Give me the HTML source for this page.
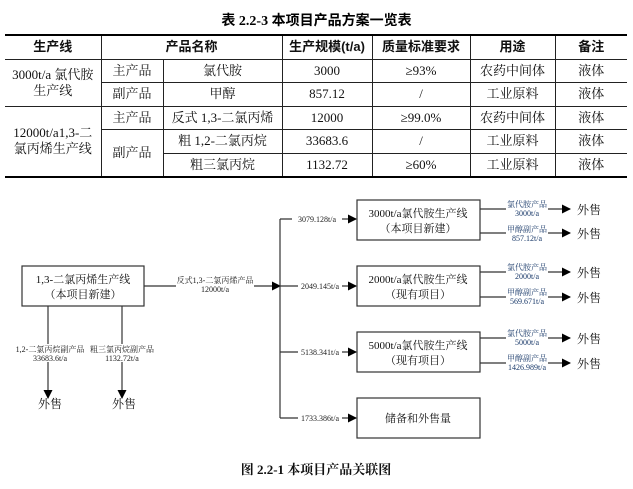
<!DOCTYPE html>
<html><head><meta charset="utf-8"><style>
body{margin:0;width:633px;height:489px;background:#fff;font-family:"Liberation Serif","Noto Serif CJK SC",serif;position:relative;overflow:hidden}
.t{position:absolute;white-space:nowrap}
table{position:absolute;left:5px;top:34px;width:622px;table-layout:fixed;border-collapse:collapse;font-size:13px;color:#111}
td,th{border:1px solid #222;text-align:center;padding:0;height:22.5px;white-space:nowrap;overflow:hidden;line-height:16px}
th{font-weight:bold;font-family:"Liberation Sans","Noto Sans CJK SC",sans-serif;font-size:13px}
table{border-top:2px solid #000;border-bottom:2px solid #000}
tr>*:first-child{border-left:none}tr>*:last-child{border-right:none}
</style></head><body>
<div class="t" style="left:0;width:633px;text-align:center;top:10px;font-size:14px;font-weight:bold;font-family:'Liberation Serif','Noto Sans CJK SC',serif">表 2.2-3 本项目产品方案一览表</div>
<table>
<colgroup><col style="width:96px"><col style="width:62px"><col style="width:119px"><col style="width:90px"><col style="width:98px"><col style="width:85px"><col style="width:72px"></colgroup>
<tr><th>生产线</th><th colspan="2">产品名称</th><th>生产规模(t/a)</th><th>质量标准要求</th><th>用途</th><th>备注</th></tr>
<tr><td rowspan="2">3000t/a 氯代胺<br>生产线</td><td>主产品</td><td>氯代胺</td><td>3000</td><td>≥93%</td><td>农药中间体</td><td>液体</td></tr>
<tr><td>副产品</td><td>甲醇</td><td>857.12</td><td>/</td><td>工业原料</td><td>液体</td></tr>
<tr><td rowspan="3">12000t/a1,3-二<br>氯丙烯生产线</td><td>主产品</td><td>反式 1,3-二氯丙烯</td><td>12000</td><td>≥99.0%</td><td>农药中间体</td><td>液体</td></tr>
<tr><td rowspan="2">副产品</td><td>粗 1,2-二氯丙烷</td><td>33683.6</td><td>/</td><td>工业原料</td><td>液体</td></tr>
<tr><td>粗三氯丙烷</td><td>1132.72</td><td>≥60%</td><td>工业原料</td><td>液体</td></tr>
</table>
<svg width="633" height="489" style="position:absolute;left:0;top:0" font-family="Liberation Serif,Noto Serif CJK SC,serif">
<defs><marker id="a" markerWidth="9" markerHeight="9" refX="8" refY="4.5" orient="auto" markerUnits="userSpaceOnUse"><path d="M0,0L9,4.5L0,9z" fill="#000"/></marker></defs>
<g stroke="#333" stroke-width="1.2" fill="none">
<rect x="22" y="266" width="122" height="40"/>
<rect x="357" y="200" width="123" height="40"/>
<rect x="357" y="266" width="123" height="40"/>
<rect x="357" y="332" width="123" height="40"/>
<rect x="357" y="398" width="123" height="40"/>
<line x1="144" y1="286" x2="280" y2="286" marker-end="url(#a)"/>
<line x1="280" y1="219" x2="280" y2="418"/>
<line x1="280" y1="219" x2="356" y2="219" marker-end="url(#a)"/>
<line x1="280" y1="286" x2="356" y2="286" marker-end="url(#a)"/>
<line x1="280" y1="352" x2="356" y2="352" marker-end="url(#a)"/>
<line x1="280" y1="418" x2="356" y2="418" marker-end="url(#a)"/>
<line x1="48" y1="306" x2="48" y2="398" marker-end="url(#a)"/>
<line x1="122" y1="306" x2="122" y2="398" marker-end="url(#a)"/>
<line x1="480" y1="209" x2="570" y2="209" marker-end="url(#a)"/>
<line x1="480" y1="233" x2="570" y2="233" marker-end="url(#a)"/>
<line x1="480" y1="272" x2="570" y2="272" marker-end="url(#a)"/>
<line x1="480" y1="297" x2="570" y2="297" marker-end="url(#a)"/>
<line x1="480" y1="338" x2="570" y2="338" marker-end="url(#a)"/>
<line x1="480" y1="363" x2="570" y2="363" marker-end="url(#a)"/>
</g>
<g fill="#fff"><rect x="176" y="275" width="78" height="20"/><rect x="12" y="344" width="76" height="18"/><rect x="88" y="344" width="68" height="18"/>
<rect x="292" y="214" width="50" height="10"/><rect x="298" y="281" width="44" height="10"/><rect x="298" y="347" width="44" height="10"/><rect x="298" y="413" width="44" height="10"/>
<rect x="506" y="203" width="42" height="14"/><rect x="506" y="227" width="42" height="14"/><rect x="506" y="266" width="42" height="14"/><rect x="506" y="291" width="42" height="14"/><rect x="506" y="332" width="42" height="14"/><rect x="506" y="357" width="42" height="14"/></g>
<g font-size="11" text-anchor="middle" fill="#111"><text x="83" y="283">1,3-二氯丙烯生产线</text><text x="83" y="298">（本项目新建）</text>
<text x="418" y="217">3000t/a氯代胺生产线</text><text x="418" y="232">（本项目新建）</text>
<text x="418" y="283">2000t/a氯代胺生产线</text><text x="418" y="298">（现有项目）</text>
<text x="418" y="349">5000t/a氯代胺生产线</text><text x="418" y="364">（现有项目）</text>
<text x="418" y="422">储备和外售量</text></g>
<g font-size="8" text-anchor="middle" fill="#222">
<text x="215" y="283">反式1,3-二氯丙烯产品</text><text x="215" y="292">12000t/a</text>
<text x="50" y="352">1,2-二氯丙烷副产品</text><text x="50" y="361">33683.6t/a</text>
<text x="122" y="352">粗三氯丙烷副产品</text><text x="122" y="361">1132.72t/a</text>
<text x="317" y="222">3079.128t/a</text><text x="320" y="289">2049.145t/a</text><text x="320" y="355">5138.341t/a</text><text x="320" y="421">1733.386t/a</text>
<g fill="#1a3a6a"><text x="527" y="207">氯代胺产品</text><text x="527" y="216">3000t/a</text>
<text x="527" y="232">甲醇副产品</text><text x="527" y="241">857.12t/a</text>
<text x="527" y="270">氯代胺产品</text><text x="527" y="279">2000t/a</text>
<text x="527" y="295">甲醇副产品</text><text x="527" y="304">569.671t/a</text>
<text x="527" y="336">氯代胺产品</text><text x="527" y="345">5000t/a</text>
<text x="527" y="361">甲醇副产品</text><text x="527" y="370">1426.989t/a</text></g></g>
<g font-size="12" fill="#111"><text x="38" y="408">外售</text><text x="112" y="408">外售</text>
<text x="577" y="214">外售</text><text x="577" y="238">外售</text><text x="577" y="277">外售</text><text x="577" y="302">外售</text><text x="577" y="343">外售</text><text x="577" y="368">外售</text></g>
<text x="316" y="474" font-size="13" font-weight="bold" text-anchor="middle" fill="#111">图 2.2-1  本项目产品关联图</text>
</svg>
</body></html>
